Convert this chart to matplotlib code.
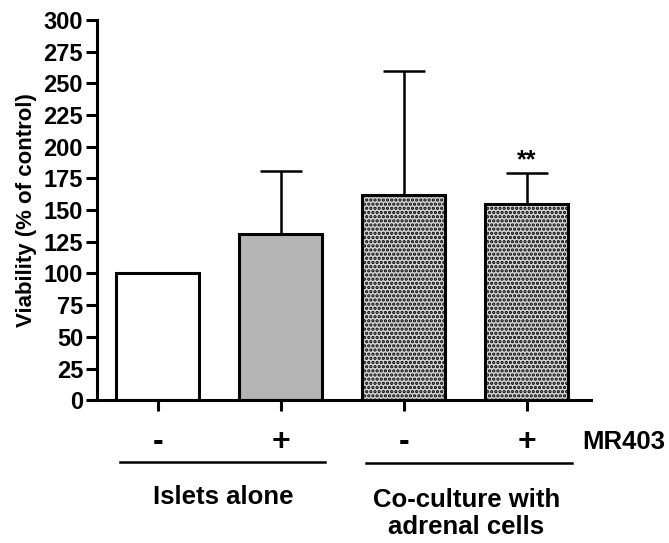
import matplotlib
matplotlib.use("Agg")
import matplotlib.pyplot as plt

plt.rcParams['font.family'] = ['Liberation Sans', 'DejaVu Sans']
plt.rcParams['font.weight'] = 'bold'
plt.rcParams['hatch.linewidth'] = 1.6

# data
mr403 = ['-', '+', '-', '+']
viability = [100, 131, 162, 155]
sem = [0, 50, 98, 24]
groups = ['Islets alone', 'Co-culture with\nadrenal cells']
signif = ['', '', '', '**']

fig = plt.figure(figsize=(6.69, 5.43), dpi=100)
ax = fig.add_axes([0.145, 0.263, 0.738, 0.700])

x = list(range(len(viability)))
faces = ['white', '#b4b4b4', '#d4d4d4', '#d4d4d4']
hatches = [None, None, '....', '....']
bars = ax.bar(x, viability, width=0.675, color=faces, edgecolor='black',
              linewidth=2.2, zorder=2)
for b, h in zip(bars, hatches):
    if h:
        b.set_hatch(h)
ax.errorbar(x, viability, yerr=[[0] * len(sem), sem], fmt='none',
            ecolor='black', elinewidth=1.8, capsize=15, capthick=1.8, zorder=1)

for xi, v, e, s in zip(x, viability, sem, signif):
    if s:
        ax.text(xi, v + e + 1, s, ha='center', va='bottom', fontsize=18,
                fontweight='bold')

ax.set_ylim(0, 300)
ax.set_xlim(-0.496, 3.52)
ax.set_yticks(range(0, 301, 25))
ax.set_xticks(x)
ax.set_xticklabels([''] * len(x))
ax.tick_params(axis='both', direction='out', length=8, width=2.2,
               labelsize=17, pad=2)
for lab in ax.get_yticklabels():
    lab.set_fontweight('bold')
ax.spines['top'].set_visible(False)
ax.spines['right'].set_visible(False)
ax.spines['left'].set_linewidth(2.2)
ax.spines['bottom'].set_linewidth(2.2)
ax.set_ylabel('Viability (% of control)', fontsize=16, fontweight='bold',
              labelpad=5)

# treatment signs and group labels under the axis
trans = ax.get_xaxis_transform()
for xi, s in zip(x, mr403):
    ax.text(xi, -0.11, s, transform=trans, ha='center', va='center',
            fontsize=23, fontweight='bold')
ax.text(3.455, -0.11, 'MR403', transform=trans, ha='left', va='center',
        fontsize=18.5, fontweight='bold')

ax.plot([-0.31, 1.36], [-0.163, -0.163], transform=trans, color='black',
        linewidth=1.8, clip_on=False)
ax.plot([1.69, 3.37], [-0.166, -0.166], transform=trans, color='black',
        linewidth=1.8, clip_on=False)
ax.text(0.53, -0.255, groups[0], transform=trans, ha='center', va='center',
        fontsize=18.5, fontweight='bold')
ax.text(2.51, -0.298, groups[1], transform=trans, ha='center', va='center',
        fontsize=18.5, fontweight='bold', linespacing=1.15)

fig.savefig('out.png', dpi=100)
